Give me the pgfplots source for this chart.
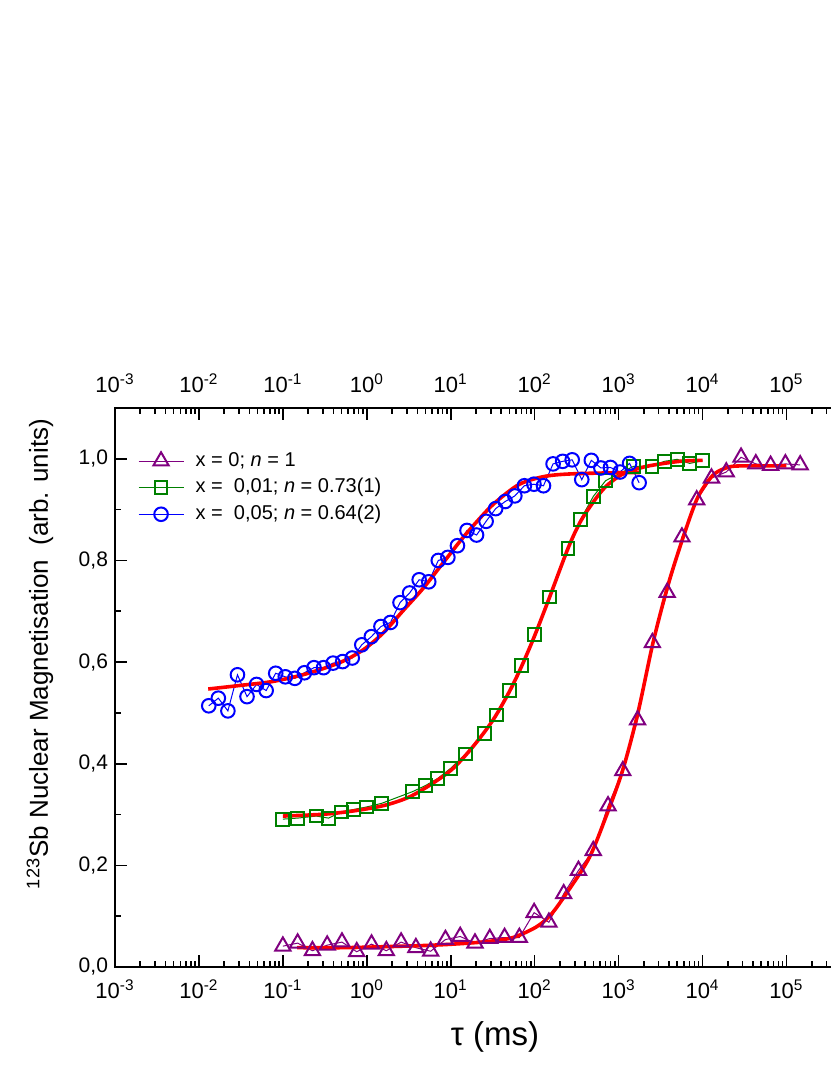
\documentclass[border=0pt]{standalone}
\usepackage{fontspec}
\setmainfont{Liberation Sans}
\usepackage{pgfplots}
\pgfplotsset{compat=1.18}
\definecolor{cpurple}{RGB}{128,0,128}
\definecolor{cgreen}{RGB}{0,128,0}
\definecolor{cblue}{RGB}{0,0,255}
\definecolor{cred}{RGB}{255,0,0}

\begin{document}
\begin{tikzpicture}
\begin{axis}[
  xmode=log, xmin=1e-3, xmax=1e6, ymin=0, ymax=1.1,
  scale only axis, width=377.7pt, height=279.5pt,
  at={(0pt,0pt)}, anchor=south west,
  axis line style={line width=0.9pt},
  tick style={line width=0.8pt, black},
  major tick length=6pt, minor tick length=3pt,
  tick align=inside,
  xtick={1e-3,1e-2,1e-1,1,10,100,1000,1e4,1e5,1e6},
  xticklabels={10\textsuperscript{-3},10\textsuperscript{-2},10\textsuperscript{-1},10\textsuperscript{0},10\textsuperscript{1},10\textsuperscript{2},10\textsuperscript{3},10\textsuperscript{4},10\textsuperscript{5},{}},
  xticklabel style={font=\fontsize{11}{13}\selectfont, yshift=-3pt},
  yticklabel style={font=\fontsize{10.5}{12}\selectfont, /pgf/number format/.cd, fixed, fixed zerofill, precision=1, use comma, assume math mode=true},
  ytick={0,0.2,0.4,0.6,0.8,1.0},
  minor y tick num=1,
  xlabel={τ (ms)},
  every axis x label/.style={at={(axis description cs:0.503,-0.125)}, anchor=center, font=\fontsize{16.5}{19}\selectfont},
  ylabel={\textsuperscript{123}Sb Nuclear Magnetisation\ \ (arb. units)},
  every axis y label/.style={at={(axis description cs:-0.0993,0.56)}, anchor=center, rotate=90, font=\fontsize{13}{15}\selectfont},
  legend style={at={(axis description cs:0.03,0.926)}, anchor=north west, draw=none, fill=none,
    font=\fontsize{10}{12}\selectfont, inner sep=0pt, row sep=2pt, column sep=5pt,
    nodes={inner sep=0.8pt, text height=7.5pt, text depth=2.2pt}},
  legend cell align=left,
  legend image code/.code={\draw[mark repeat=2,mark phase=2] plot coordinates {(0pt,0pt)(11.25pt,0pt)(22.5pt,0pt)};},
]
% x = 0 (purple triangles)
\addplot[color=cpurple, line width=0.5pt, mark=triangle, mark size=4.4pt, mark options={line width=1pt, solid}] coordinates {
(0.1,0.041)(0.15,0.047)(0.225,0.032)(0.3375,0.043)(0.506,0.049)(0.759,0.030)(1.139,0.045)(1.709,0.032)
(2.563,0.049)(3.844,0.038)(5.767,0.031)(8.650,0.054)(12.97,0.060)(19.46,0.047)(29.19,0.056)(43.79,0.058)
(65.68,0.058)(98.53,0.107)(147.8,0.088)(221.7,0.144)(332.5,0.190)(498.8,0.229)(748.2,0.317)(1122,0.386)
(1683,0.486)(2525,0.638)(3788,0.737)(5682,0.846)(8522,0.919)(12783,0.962)(19175,0.974)(28763,1.003)
(43144,0.990)(64716,0.987)(97074,0.990)(145611,0.988)};
\addlegendentry{x = 0; \textit{n} = 1}
% x = 0.01 (green squares)
\addplot[color=cgreen, line width=0.5pt, mark=square, mark size=3.2pt, mark options={line width=1pt, solid}] coordinates {
(0.1,0.291)(0.15,0.293)(0.25,0.297)(0.35,0.293)(0.5,0.305)(0.7,0.310)(1.0,0.315)(1.5,0.322)
(3.5,0.345)(5,0.357)(7,0.371)(10,0.391)(15,0.419)(25,0.460)(35,0.496)(50,0.544)(70,0.594)
(100,0.654)(150,0.728)(250,0.824)(350,0.880)(500,0.926)(700,0.957)(1500,0.985)(2500,0.985)
(3500,0.995)(5000,0.999)(7000,0.991)(10000,0.996)};
\addlegendentry{x = \ 0,01; \textit{n} = 0.73(1)}
% x = 0.05 (blue circles)
\addplot[color=cblue, line width=0.5pt, mark=o, mark size=3.4pt, mark options={line width=1pt, solid}] coordinates {
(0.0131,0.514)(0.01703,0.529)(0.02214,0.504)(0.02878,0.575)(0.03741,0.532)(0.04864,0.556)(0.06323,0.544)
(0.0822,0.578)(0.1069,0.571)(0.1389,0.568)(0.1806,0.579)(0.2348,0.589)(0.3052,0.589)(0.3968,0.598)
(0.5157,0.601)(0.6706,0.608)(0.8717,0.634)(1.133,0.650)(1.474,0.670)(1.915,0.678)(2.489,0.717)
(3.237,0.736)(4.208,0.762)(5.469,0.758)(7.111,0.800)(9.243,0.806)(12.02,0.829)(15.62,0.859)
(20.31,0.850)(26.40,0.877)(34.32,0.902)(44.62,0.916)(58.01,0.927)(75.42,0.947)(98.03,0.950)
(127.4,0.947)(165.7,0.990)(215.4,0.995)(280.0,0.998)(364.0,0.959)(473.2,0.997)(615.1,0.982)
(799.6,0.983)(1039.5,0.974)(1351.4,0.991)(1756.8,0.953)};
\addlegendentry{x = \ 0,05; \textit{n} = 0.64(2)}
% fits
\addplot[color=cred, line width=1.8pt, smooth, forget plot] coordinates {
(0.148,0.038)(0.5,0.038)(1,0.039)(4.3,0.042)(10.7,0.045)(27,0.050)(55,0.058)(105,0.079)(158,0.104)
(251,0.150)(447,0.215)(708,0.296)(1122,0.388)(1698,0.500)(2570,0.638)(3890,0.752)(5890,0.846)
(8710,0.923)(13180,0.967)(19050,0.982)(27540,0.986)(100000,0.986)};
\addplot[color=cred, line width=1.8pt, smooth, forget plot] coordinates {
(0.1,0.297)(0.33,0.301)(0.83,0.309)(1.71,0.319)(3.25,0.335)(6.17,0.362)(10.7,0.391)(18.5,0.434)
(31.9,0.486)(50,0.542)(70,0.592)(100,0.652)(150,0.727)(250,0.824)(350,0.876)(500,0.915)(700,0.945)
(1125,0.970)(2133,0.985)(5320,0.995)(10000,0.997)};
\addplot[color=cred, line width=1.8pt, smooth, forget plot] coordinates {
(0.0129,0.547)(0.0308,0.554)(0.0767,0.562)(0.191,0.577)(0.477,0.599)(0.904,0.624)(1.56,0.657)
(2.70,0.701)(4.68,0.745)(8.09,0.795)(14.0,0.845)(24.3,0.890)(35,0.916)(66,0.950)(138,0.966)
(344,0.971)(1778,0.973)};
\end{axis}
\begin{axis}[
  xmode=log, xmin=1e-3, xmax=1e6, ymin=0, ymax=1.1,
  scale only axis, width=377.7pt, height=279.5pt,
  at={(0pt,0pt)}, anchor=south west,
  axis line style={line width=0.9pt},
  tick style={line width=0.8pt, black},
  major tick length=6pt, minor tick length=3pt,
  tick align=inside,
  xtick={1e-3,1e-2,1e-1,1,10,100,1000,1e4,1e5,1e6},
  xticklabels={10\textsuperscript{-3},10\textsuperscript{-2},10\textsuperscript{-1},10\textsuperscript{0},10\textsuperscript{1},10\textsuperscript{2},10\textsuperscript{3},10\textsuperscript{4},10\textsuperscript{5},{}},
  xticklabel style={font=\fontsize{11}{13}\selectfont, yshift=4pt},
  xticklabel pos=upper,
  ytick={0,0.2,0.4,0.6,0.8,1.0}, yticklabels={},
]
\addplot[draw=none, forget plot] coordinates {(1,0.5)};
\end{axis}
\pgfresetboundingbox
\useasboundingbox (-57.5pt,-54pt) rectangle (357.5pt,483.5pt);
\end{tikzpicture}
\end{document}
